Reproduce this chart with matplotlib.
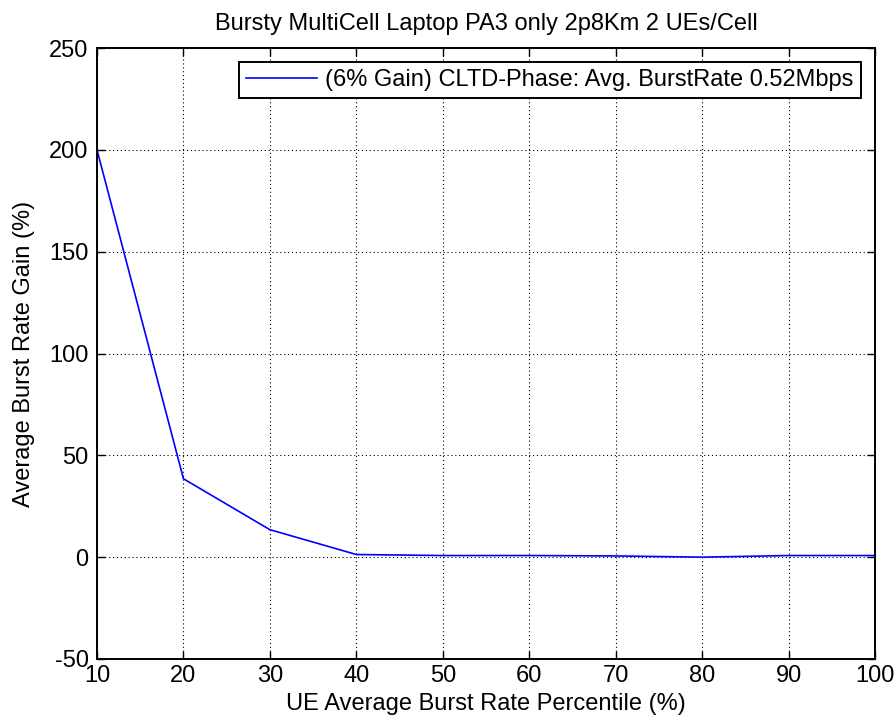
import matplotlib
matplotlib.use('Agg')
import matplotlib.pyplot as plt

percentile = [10, 20, 30, 40, 50, 60, 70, 80, 90, 100]
gain = [200, 38.5, 13.5, 1.3, 0.8, 0.8, 0.6, 0.0, 0.8, 0.8]

title = 'Bursty MultiCell Laptop PA3 only 2p8Km 2 UEs/Cell'
label = '(6% Gain) CLTD-Phase: Avg. BurstRate 0.52Mbps'

plt.rcParams['font.family'] = ['Liberation Sans', 'DejaVu Sans']
plt.rcParams['font.size'] = 17
plt.rcParams['axes.unicode_minus'] = False

fig = plt.figure(figsize=(8.94, 7.21), dpi=100)
ax = fig.add_axes([0.1085, 0.086, 0.8702, 0.8474])

ax.plot(percentile, gain, color='#0000ff', linewidth=1.2, label=label)

ax.set_xlim(10, 100)
ax.set_ylim(-50, 250)
ax.set_xticks(range(10, 101, 10))
ax.set_yticks(range(-50, 251, 50))
ax.grid(True, color='black', linestyle=(0, (1, 2.5)), linewidth=0.8)
ax.tick_params(direction='in', top=True, right=True, length=6, width=1.0,
               labelsize=17)
ax.tick_params(axis='x', pad=4)
ax.tick_params(axis='y', pad=6)
for s in ax.spines.values():
    s.set_linewidth(1.4)

ax.set_title(title, fontsize=17, pad=13)
ax.set_xlabel('UE Average Burst Rate Percentile (%)', fontsize=17, labelpad=5)
ax.set_ylabel('Average Burst Rate Gain (%)', fontsize=17, labelpad=10)

leg = ax.legend(loc='upper right', fancybox=False, edgecolor='black', framealpha=1,
                borderaxespad=0.6, borderpad=0.3, handlelength=3.0,
                handletextpad=0.35, fontsize=17)
leg.get_frame().set_linewidth(1.4)

fig.savefig('out.png', dpi=100)
